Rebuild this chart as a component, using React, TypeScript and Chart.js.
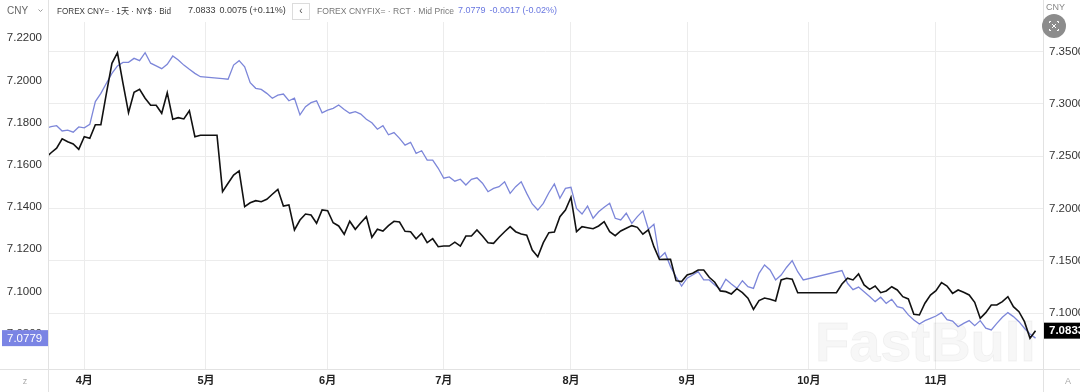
import React, { useEffect, useRef } from 'react';
import { Chart, registerables } from 'chart.js';

Chart.register(...registerables);

// Trading-day index 0 = 21 Mar; month ticks at first trading day of month
const monthTickIndex = [7, 29, 51, 72, 95, 116, 138, 161];
const monthLabels = ['4月', '5月', '6月', '7月', '8月', '9月', '10月', '11月'];

const leftTicks = [7.08, 7.1, 7.12, 7.14, 7.16, 7.18, 7.2, 7.22];
const rightTicks = [7.1, 7.15, 7.2, 7.25, 7.3, 7.35];

// FOREX CNY= · 1天 · NY$ · Bid (right axis, black)
const cnySpot = [
  7.2484, 7.2534, 7.2577, 7.2668, 7.2640, 7.2618, 7.2567, 7.2687, 7.2672, 7.2802,
  7.2802, 7.3102, 7.3389, 7.3490, 7.3198, 7.2917, 7.3112, 7.3141, 7.3055, 7.2988,
  7.2988, 7.2911, 7.3108, 7.2854, 7.2869, 7.2857, 7.2936, 7.2687, 7.2701, 7.2701,
  7.2701, 7.2701, 7.2162, 7.2242, 7.2321, 7.2360, 7.2018, 7.2056, 7.2076, 7.2066,
  7.2089, 7.2137, 7.2184, 7.2025, 7.2035, 7.1796, 7.1891, 7.1948, 7.1939, 7.1860,
  7.1987, 7.1980, 7.1865, 7.1834, 7.1755, 7.1879, 7.1802, 7.1865, 7.1923, 7.1726,
  7.1802, 7.1786, 7.1837, 7.1879, 7.1872, 7.1783, 7.1779, 7.1712, 7.1764, 7.1674,
  7.1712, 7.1636, 7.1642, 7.1642, 7.1679, 7.1642, 7.1738, 7.1738, 7.1796, 7.1738,
  7.1674, 7.1668, 7.1726, 7.1779, 7.1827, 7.1779, 7.1757, 7.1745, 7.1604, 7.1540,
  7.1674, 7.1770, 7.1776, 7.1923, 7.1987, 7.2108, 7.1779, 7.1827, 7.1817, 7.1808,
  7.1834, 7.1875, 7.1779, 7.1741, 7.1786, 7.1812, 7.1837, 7.1821, 7.1755, 7.1796,
  7.1636, 7.1513, 7.1515, 7.1515, 7.1311, 7.1302, 7.1365, 7.1382, 7.1413, 7.1413,
  7.1343, 7.1296, 7.1213, 7.1206, 7.1184, 7.1234, 7.1196, 7.1143, 7.1037, 7.1120,
  7.1145, 7.1133, 7.1117, 7.1318, 7.1334, 7.1324, 7.1196, 7.1196, 7.1196, 7.1196,
  7.1196, 7.1196, 7.1196, 7.1196, 7.1279, 7.1334, 7.1318, 7.1375, 7.1270, 7.1228,
  7.1260, 7.1196, 7.1213, 7.1253, 7.1222, 7.1158, 7.1136, 7.0990, 7.0983, 7.1095,
  7.1174, 7.1215, 7.1292, 7.1260, 7.1190, 7.1222, 7.1200, 7.1174, 7.1104, 7.0951,
  7.1005, 7.1078, 7.1078, 7.1111, 7.1158, 7.1062, 7.1014, 7.0919, 7.0760, 7.0833,
];

// FOREX CNYFIX= · RCT · Mid Price (left axis, blue)
const cnyFix = [
  7.1773, 7.1781, 7.1786, 7.1761, 7.1765, 7.1755, 7.1780, 7.1776, 7.1792, 7.1900,
  7.1939, 7.1987, 7.2034, 7.2069, 7.2086, 7.2086, 7.2105, 7.2094, 7.2132, 7.2082,
  7.2069, 7.2056, 7.2077, 7.2116, 7.2097, 7.2073, 7.2053, 7.2034, 7.2018, null,
  null, null, 7.2009, 7.2006, 7.2073, 7.2094, 7.2065, 7.1990, 7.1963, 7.1958,
  7.1939, 7.1916, 7.1931, 7.1936, 7.1904, 7.1916, 7.1837, 7.1876, 7.1895, 7.1904,
  7.1847, 7.1860, 7.1868, 7.1884, 7.1863, 7.1845, 7.1852, 7.1841, 7.1816, 7.1800,
  7.1769, 7.1786, 7.1743, 7.1753, 7.1726, 7.1694, 7.1707, 7.1655, 7.1667, 7.1623,
  7.1623, 7.1584, 7.1537, 7.1543, 7.1523, 7.1532, 7.1505, 7.1532, 7.1539, 7.1513,
  7.1473, 7.1489, 7.1497, 7.1520, 7.1465, 7.1497, 7.1520, 7.1465, 7.1415, 7.1386,
  7.1418, 7.1468, 7.1510, 7.1442, 7.1489, 7.1494, 7.1394, 7.1367, 7.1405, 7.1347,
  7.1378, 7.1399, 7.1418, 7.1347, 7.1339, 7.1371, 7.1323, 7.1355, 7.1382, 7.1295,
  7.1319, 7.1159, 7.1184, 7.1118, 7.1070, 7.1026, 7.1063, 7.1078, 7.1094, 7.1055,
  7.1055, 7.1031, 7.1011, 7.1058, 7.1036, 7.1015, 7.1051, 7.1023, 7.1015, 7.1086,
  7.1126, 7.1102, 7.1055, 7.1078, 7.1115, 7.1146, 7.1094, 7.1055, null, null,
  null, null, null, null, 7.1099, 7.1039, 7.1009, 7.1021, 7.0999, 7.0976,
  7.0952, 7.0973, 7.0944, 7.0963, 7.0928, 7.0921, 7.0889, 7.0865, 7.0846, 7.0862,
  7.0873, 7.0884, 7.0900, 7.0867, 7.0860, 7.0833, 7.0849, 7.0862, 7.0838, 7.0862,
  7.0826, 7.0818, 7.0849, 7.0878, 7.0900, 7.0881, 7.0857, 7.0826, 7.0799, 7.0779,
];

const spotHeader = 'FOREX CNY= · 1天 · NY$ · Bid';
const spotChange = '0.0075 (+0.11%)';
const fixHeader = 'FOREX CNYFIX= · RCT · Mid Price';
const fixChange = '-0.0017 (-0.02%)';

const FONT = '"Liberation Sans", Arial, "Noto Sans CJK SC", sans-serif';
const BLUE = '#7c86d9';
const BLUE_BOX = '#7a84e4';
const GRID = '#ececec';
const SEP = '#e2e2e2';

const decor = {
  id: 'decor',
  beforeDatasetsDraw(chart: any) {
    const ctx = chart.ctx;
    ctx.save();
    ctx.font = `bold 56px ${FONT}`;
    ctx.textBaseline = 'alphabetic';
    ctx.textAlign = 'left';
    ctx.fillStyle = 'rgba(0,0,0,0.03)';
    ctx.strokeStyle = 'rgba(0,0,0,0.05)';
    ctx.lineWidth = 1;
    ctx.fillText('FastBull', 815, 361);
    ctx.strokeText('FastBull', 815, 361);
    ctx.restore();
  },
  afterDraw(chart: any) {
    const ctx = chart.ctx;
    const W = chart.width;
    const H = chart.height;
    const area = chart.chartArea;
    ctx.save();
    // separators
    ctx.strokeStyle = SEP;
    ctx.lineWidth = 1;
    ctx.beginPath();
    ctx.moveTo(Math.round(area.left) + 0.5, 0);
    ctx.lineTo(Math.round(area.left) + 0.5, H);
    ctx.moveTo(Math.round(area.right) + 0.5, 0);
    ctx.lineTo(Math.round(area.right) + 0.5, H);
    ctx.moveTo(0, Math.round(area.bottom) + 0.5);
    ctx.lineTo(W, Math.round(area.bottom) + 0.5);
    ctx.stroke();

    // header
    ctx.textBaseline = 'middle';
    ctx.textAlign = 'left';
    ctx.font = `10px ${FONT}`;
    ctx.fillStyle = '#666';
    ctx.fillText('CNY', 7, 11);
    ctx.strokeStyle = '#999';
    ctx.beginPath();
    ctx.moveTo(38.5, 9.5);
    ctx.lineTo(40.5, 11.5);
    ctx.lineTo(42.5, 9.5);
    ctx.stroke();

    const lastSpot = cnySpot[cnySpot.length - 1] as number;
    const lastFix = cnyFix[cnyFix.length - 1] as number;

    ctx.font = `9.5px ${FONT}`;
    ctx.fillStyle = '#3a3a3a';
    ctx.fillText(spotHeader, 57, 11, 114);
    ctx.font = `9px ${FONT}`;
    const sv = lastSpot.toFixed(4);
    ctx.fillText(sv, 188, 11);
    ctx.fillText(spotChange, 188 + ctx.measureText(sv).width + 4, 11);

    ctx.strokeStyle = '#dcdcdc';
    ctx.strokeRect(292.5, 3.5, 17, 16);
    ctx.fillStyle = '#555';
    ctx.textAlign = 'center';
    ctx.font = `10px ${FONT}`;
    ctx.fillText('‹', 301, 11);
    ctx.textAlign = 'left';

    ctx.font = `9.5px ${FONT}`;
    ctx.fillStyle = '#777';
    ctx.fillText(fixHeader, 317, 11, 137);
    ctx.font = `9px ${FONT}`;
    ctx.fillStyle = '#6a78e0';
    const fv = lastFix.toFixed(4);
    ctx.fillText(fv, 458, 11);
    ctx.fillText(fixChange, 458 + ctx.measureText(fv).width + 4, 11);

    // right header
    ctx.font = `9px ${FONT}`;
    ctx.fillStyle = '#888';
    ctx.fillText('CNY', 1046, 8);
    ctx.beginPath();
    ctx.arc(1054, 26, 12, 0, Math.PI * 2);
    ctx.fillStyle = '#8c8c8c';
    ctx.fill();
    ctx.strokeStyle = '#ffffff';
    ctx.lineWidth = 1;
    ctx.beginPath();
    ctx.moveTo(1049.5, 23); ctx.lineTo(1049.5, 21.5); ctx.lineTo(1051, 21.5);
    ctx.moveTo(1057, 21.5); ctx.lineTo(1058.5, 21.5); ctx.lineTo(1058.5, 23);
    ctx.moveTo(1049.5, 29); ctx.lineTo(1049.5, 30.5); ctx.lineTo(1051, 30.5);
    ctx.moveTo(1057, 30.5); ctx.lineTo(1058.5, 30.5); ctx.lineTo(1058.5, 29);
    ctx.moveTo(1052, 24); ctx.lineTo(1056, 28);
    ctx.moveTo(1056, 24); ctx.lineTo(1052, 28);
    ctx.stroke();

    // bottom icons
    ctx.font = `9px ${FONT}`;
    ctx.fillStyle = '#aaa';
    ctx.textAlign = 'center';
    ctx.fillText('z', 25, 382);
    ctx.fillText('A', 1068, 382);

    // last value boxes
    ctx.textAlign = 'left';
    const yL = chart.scales.yL;
    const yR = chart.scales.yR;
    const pl = yL.getPixelForValue(lastFix);
    ctx.fillStyle = BLUE_BOX;
    ctx.fillRect(2, pl - 8, area.left - 2, 16);
    ctx.fillStyle = '#fff';
    ctx.font = `11.5px ${FONT}`;
    ctx.fillText(fv, 7, pl + 0.5);

    const pr = yR.getPixelForValue(lastSpot);
    ctx.fillStyle = '#000';
    ctx.fillRect(area.right + 1, pr - 8, W - area.right, 16);
    ctx.fillStyle = '#fff';
    ctx.font = `bold 11.5px ${FONT}`;
    ctx.fillText(sv, area.right + 6, pr + 0.5);
    ctx.restore();
  },
};

export default function App() {
  const ref = useRef<HTMLCanvasElement>(null);
  useEffect(() => {
    document.body.style.margin = '0';
    const canvas = ref.current as HTMLCanvasElement;
    const chart = new Chart(canvas, {
      type: 'line',
      data: {
        datasets: [
          {
            label: spotHeader,
            data: cnySpot.map((v, i) => ({ x: i, y: v })),
            yAxisID: 'yR',
            borderColor: '#111111',
            borderWidth: 1.6,
            pointRadius: 0,
            tension: 0,
            clip: 0,
          },
          {
            label: fixHeader,
            data: cnyFix.map((v, i) => ({ x: i, y: v })),
            yAxisID: 'yL',
            borderColor: BLUE,
            borderWidth: 1.3,
            pointRadius: 0,
            tension: 0,
            spanGaps: true,
            clip: 0,
          },
        ],
      } as any,
      options: {
        responsive: false,
        animation: false,
        devicePixelRatio: 1,
        events: [],
        layout: { padding: { top: 22, left: 0, right: 0, bottom: 0 } },
        plugins: { legend: { display: false }, tooltip: { enabled: false } },
        scales: {
          x: {
            type: 'linear',
            min: 0.44,
            max: 180.35,
            afterBuildTicks: (s: any) => {
              s.ticks = monthTickIndex.map((v) => ({ value: v }));
            },
            afterFit: (s: any) => {
              s.height = 23;
            },
            grid: { color: GRID, drawTicks: false },
            border: { display: false },
            ticks: {
              autoSkip: false,
              maxRotation: 0,
              padding: 5,
              color: '#222',
              font: { family: FONT, size: 11, weight: 'bold' },
              callback: (v: any) => {
                const k = monthTickIndex.indexOf(Number(v));
                return k >= 0 ? monthLabels[k] : '';
              },
            },
          },
          yL: {
            position: 'left',
            min: 7.06327,
            max: 7.22773,
            afterBuildTicks: (s: any) => {
              s.ticks = leftTicks.map((v) => ({ value: v }));
            },
            afterFit: (s: any) => {
              s.width = 48;
            },
            grid: { display: false, drawTicks: false },
            border: { display: false },
            ticks: {
              padding: 6,
              color: '#333',
              font: { family: FONT, size: 11.5 },
              callback: (v: any) => Number(v).toFixed(4),
            },
          },
          yR: {
            position: 'right',
            min: 7.04665,
            max: 7.37839,
            afterBuildTicks: (s: any) => {
              s.ticks = rightTicks.map((v) => ({ value: v }));
            },
            afterFit: (s: any) => {
              s.width = 37;
            },
            grid: { color: GRID, drawTicks: false },
            border: { display: false },
            ticks: {
              padding: 6,
              color: '#333',
              font: { family: FONT, size: 11.5 },
              callback: (v: any) => Number(v).toFixed(4),
            },
          },
        },
      } as any,
      plugins: [decor],
    });
    return () => chart.destroy();
  }, []);
  return (
    <div style={{ width: 1080, height: 392, background: '#fff' }}>
      <canvas ref={ref} width={1080} height={392} style={{ display: 'block' }} />
    </div>
  );
}
